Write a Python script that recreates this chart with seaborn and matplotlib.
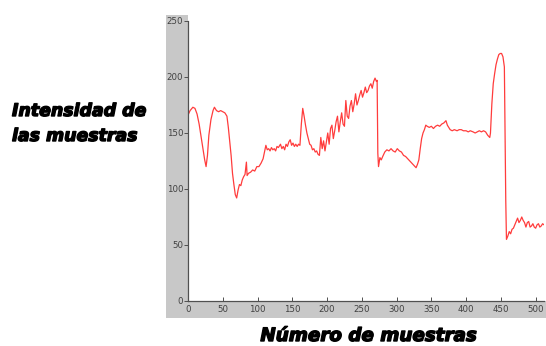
import matplotlib
matplotlib.use("Agg")
import matplotlib.pyplot as plt
from matplotlib.patches import Rectangle
import matplotlib.patheffects as pe
import pandas as pd
import seaborn as sns

# Sample index and measured intensity along the signal
samples = [
    0, 3, 7, 10, 13, 16, 19, 22, 24, 26, 28, 30, 33, 36, 38, 41, 44, 47, 50, 53,
    56, 58, 60, 62, 64, 66, 68, 70, 72, 74, 76, 78, 80, 82, 84, 85, 87, 90, 93, 96,
    99, 102, 105, 108, 110, 112, 114, 116, 118, 120, 122, 124, 126, 128, 130, 133,
    135, 137, 139, 141, 143, 145, 147, 149, 151, 153, 155, 157, 159, 161, 163, 165,
    167, 169, 171, 173, 175, 177, 179, 181, 183, 185, 187, 189, 191, 193, 195, 197,
    199, 201, 203, 205, 207, 209, 211, 213, 215, 217, 219, 221, 223, 225, 227, 229,
    231, 233, 235, 237, 239, 241, 243, 245, 247, 249, 251, 253, 255, 257, 259, 261,
    263, 265, 267, 269, 271, 272, 273, 274, 276, 278, 280, 283, 286, 289, 292, 295,
    298, 301, 304, 307, 310, 313, 316, 319, 322, 325, 328, 330, 332, 334, 336, 338,
    340, 342, 344, 347, 350, 353, 356, 359, 362, 365, 368, 371, 373, 375, 377, 380,
    383, 387, 390, 393, 396, 400, 403, 406, 410, 413, 416, 419, 422, 425, 428, 431,
    434, 435, 437, 439, 441, 443, 445, 447, 449, 451, 453, 455, 456, 457, 458, 460,
    462, 464, 466, 468, 470, 472, 474, 476, 478, 480, 482, 484, 486, 488, 490, 492,
    494, 496, 498, 500, 502, 504, 506, 508, 510, 512,
]
intensity = [
    166, 170, 173, 172, 167, 158, 146, 134, 126, 120, 130, 148, 162, 170, 173, 170, 169, 170, 169, 168,
    165, 155, 142, 130, 114, 104, 95, 92, 99, 104, 103, 108, 111, 113, 124, 112, 114, 115, 117, 116,
    120, 120, 123, 127, 133, 139, 135, 136, 134, 137, 135, 136, 134, 138, 137, 140,
    136, 138, 135, 140, 138, 142, 144, 139, 141, 138, 140, 138, 140, 139, 158, 172,
    165, 157, 150, 145, 140, 139, 135, 136, 133, 134, 131, 130, 146, 136, 143, 134,
    142, 150, 140, 154, 157, 145, 152, 160, 165, 151, 160, 168, 158, 156, 179, 165,
    163, 174, 179, 169, 176, 185, 175, 179, 184, 188, 182, 186, 191, 186, 188, 192,
    194, 190, 196, 199, 196, 197, 132, 120, 128, 126, 129, 133, 135, 134, 136, 134,
    133, 136, 134, 133, 130, 129, 127, 125, 123, 121, 119, 122, 126, 136, 145, 150,
    153, 157, 156, 155, 156, 154, 156, 157, 156, 158, 159, 161, 157, 155, 153, 152,
    153, 152, 153, 153, 152, 152, 151, 152, 151, 150, 151, 152, 151, 152, 151, 148,
    146, 150, 176, 194, 203, 211, 216, 220, 221, 221, 218, 209, 150, 90, 55, 58,
    62, 60, 64, 65, 68, 71, 74, 70, 72, 75, 72, 70, 66, 70, 71, 66,
    67, 69, 66, 65, 68, 69, 66, 67, 69, 68,
]

x_ticks = [0, 50, 100, 150, 200, 250, 300, 350, 400, 450, 500]
y_ticks = [0, 50, 100, 150, 200, 250]

df = pd.DataFrame({"muestra": samples, "intensidad": intensity})

sns.set_style("ticks")
W, H = 546, 346
fig = plt.figure(figsize=(W / 100, H / 100), dpi=100, facecolor="white")

# grey L-shaped strip along the left and bottom of the axes
grey = "#c8c8c8"
fig.patches.append(Rectangle((166 / W, (H - 301) / H), (188 - 166) / W, (301 - 15) / H,
                             transform=fig.transFigure, facecolor=grey,
                             edgecolor="none", zorder=-10))
fig.patches.append(Rectangle((166 / W, (H - 318) / H), 1 - 166 / W, (318 - 301) / H,
                             transform=fig.transFigure, facecolor=grey,
                             edgecolor="none", zorder=-10))

ax = fig.add_axes([188 / W, (H - 301) / H, (544 - 188) / W, (301 - 21) / H])
ax.set_zorder(5)
ax.patch.set_alpha(0)

sns.lineplot(data=df, x="muestra", y="intensidad", ax=ax, color="#ff1a1a",
             linewidth=0.9, alpha=0.85)

ax.set_xlim(0, 512)
ax.set_ylim(0, 250)
ax.set_xticks(x_ticks)
ax.set_yticks(y_ticks)
ax.set_xlabel("")
ax.set_ylabel("")
for s in ["top", "right"]:
    ax.spines[s].set_visible(False)
for s in ["left", "bottom"]:
    ax.spines[s].set_color("#505050")
    ax.spines[s].set_linewidth(0.9)
ax.tick_params(axis="x", direction="in", length=3, width=0.7, colors="#505050",
               labelsize=6.2, labelcolor="#404040", pad=3)
ax.tick_params(axis="y", direction="out", length=3, width=0.7, colors="#505050",
               labelsize=6.2, labelcolor="#404040", pad=0.5)

heavy = [pe.withStroke(linewidth=1.0, foreground="black")]
label_kw = dict(fontweight="bold", fontstyle="italic",
                va="center", color="black", path_effects=heavy)
fig.text(12 / W, 1 - 111 / H, "Intensidad de", ha="left", fontsize=12.5, **label_kw)
fig.text(12 / W, 1 - 136 / H, "las muestras", ha="left", fontsize=12.5, **label_kw)
fig.text(369 / W, 1 - 336 / H, "Número de muestras", ha="center", fontsize=13.2, **label_kw)

fig.savefig("out.png", dpi=100, facecolor="white")
